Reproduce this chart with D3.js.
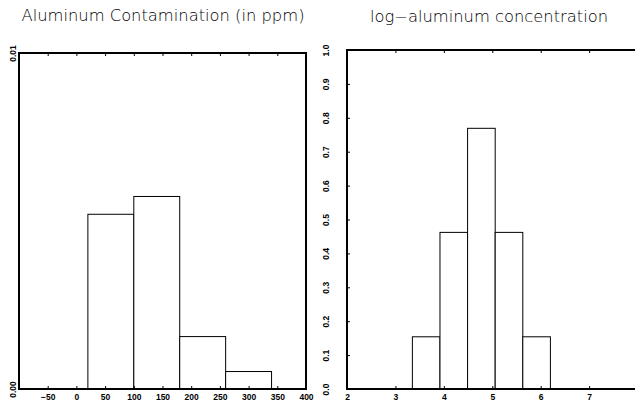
<!DOCTYPE html>
<html>
<head>
<meta charset="utf-8">
<script src="https://cdn.jsdelivr.net/npm/d3@7"></script>
<style>
  body { margin: 0; background: #fff; }
  .tick text { font-family: "Liberation Sans", sans-serif; font-weight: bold; font-size: 8.5px; fill: #000; }
  .title { font-family: "DejaVu Sans", sans-serif; font-weight: 200; font-size: 15px; fill: #000; }
</style>
</head>
<body>
<div id="chart-container"></div>
<script>
// left panel: aluminum contamination (ppm), density histogram
const alBins = [20, 100, 180, 260, 340];
const alDensity = [0.0052, 0.00573, 0.00156, 0.00052];
const alXTicks = [-50, 0, 50, 100, 150, 200, 250, 300, 350, 400];
const alYTicks = [0, 0.01];

// right panel: log-aluminum concentration
const logBins = [3.35, 3.92, 4.49, 5.06, 5.63, 6.20];
const logHeights = [0.154, 0.462, 0.769, 0.462, 0.154];
const logXTicks = [2, 3, 4, 5, 6, 7];
const logYTicks = [0, 0.1, 0.2, 0.3, 0.4, 0.5, 0.6, 0.7, 0.8, 0.9, 1.0];

const svg = d3.select("#chart-container").append("svg")
  .attr("width", 635).attr("height", 405);

function panel(opts) {
  const x = d3.scaleLinear().domain(opts.xDomain).range(opts.xRange);
  const y = d3.scaleLinear().domain(opts.yDomain).range(opts.yRange);
  const g = svg.append("g");

  // bars
  const bars = opts.heights.map((h, i) => ({x0: opts.bins[i], x1: opts.bins[i + 1], h: h}));
  g.selectAll("rect.bar").data(bars).enter().append("rect")
    .attr("class", "bar")
    .attr("x", d => x(d.x0)).attr("width", d => x(d.x1) - x(d.x0))
    .attr("y", d => y(d.h)).attr("height", d => y(0) - y(d.h))
    .attr("fill", "#fff").attr("stroke", "#000").attr("stroke-width", 1);

  // bottom axis, ticks inward
  const bottom = g.append("g").attr("transform", `translate(0,${opts.yRange[0]})`)
    .call(d3.axisBottom(x).tickValues(opts.xTicks).tickSize(-3).tickPadding(5).tickFormat(d3.format("d")));
  // top axis: ticks only
  const top = g.append("g").attr("transform", `translate(0,${opts.yRange[1]})`)
    .call(d3.axisTop(x).tickValues(opts.xTicks).tickSize(-3).tickFormat(""));
  // left axis with rotated labels
  const left = g.append("g").attr("transform", `translate(${opts.xRange[0]},0)`)
    .call(d3.axisLeft(y).tickValues(opts.yTicks).tickSize(-3).tickFormat(d3.format(opts.yFormat)));
  left.selectAll("text")
    .attr("transform", "rotate(-90)")
    .attr("x", 0).attr("y", -opts.yLabelOff).attr("dy", null)
    .attr("text-anchor", "middle");

  [bottom, top, left].forEach(a => {
    a.select(".domain").remove();
    a.selectAll("line").attr("stroke", "#000").attr("stroke-width", 1);
  });

  // frame
  g.append("rect")
    .attr("x", opts.xRange[0]).attr("y", opts.yRange[1])
    .attr("width", opts.xRange[1] - opts.xRange[0])
    .attr("height", opts.yRange[0] - opts.yRange[1])
    .attr("fill", "none").attr("stroke", "#000").attr("stroke-width", 2);

  svg.append("text").attr("class", "title")
    .attr("x", opts.titleX).attr("y", opts.titleY)
    .attr("text-anchor", "middle")
    .attr("textLength", opts.titleLen).attr("lengthAdjust", "spacingAndGlyphs")
    .text(opts.title);
}

panel({
  bins: alBins, heights: alDensity,
  xDomain: [-100, 400], xRange: [19, 306],
  yDomain: [0, 0.01], yRange: [389, 53],
  xTicks: alXTicks, yTicks: alYTicks, yFormat: ".2f", yLabelOff: 3,
  title: "Aluminum Contamination (in ppm)", titleX: 163, titleY: 21, titleLen: 283
});

panel({
  bins: logBins, heights: logHeights,
  xDomain: [2, 9], xRange: [347, 686],
  yDomain: [0, 1], yRange: [389, 50],
  xTicks: logXTicks, yTicks: logYTicks, yFormat: ".1f", yLabelOff: 18,
  title: "log\u2212aluminum concentration", titleX: 489, titleY: 22, titleLen: 238
});
</script>
</body>
</html>
